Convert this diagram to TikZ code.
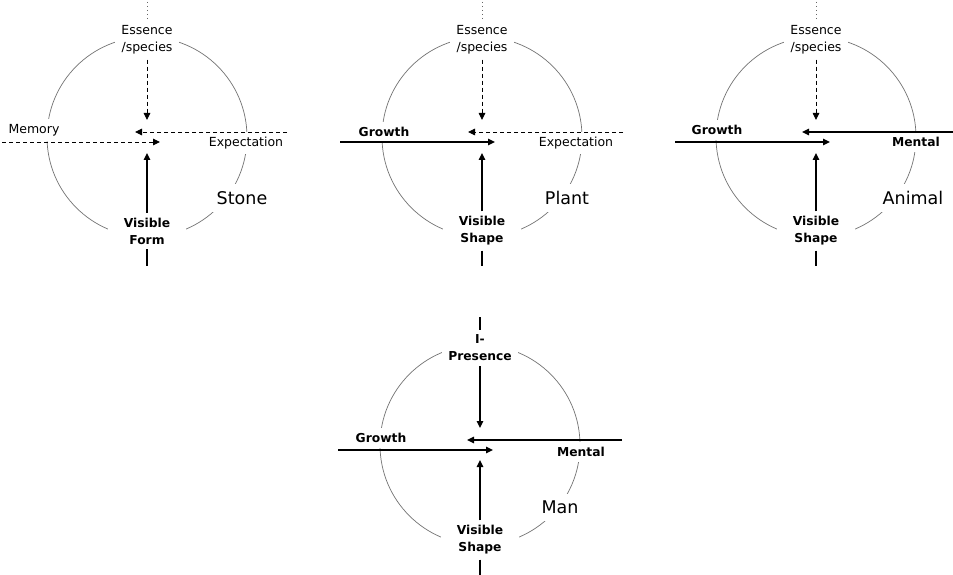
\documentclass[tikz,border=0pt]{standalone}
\usepackage{fontspec}
\setmainfont{DejaVu Sans}
\usetikzlibrary{arrows.meta}
\begin{document}
\begin{tikzpicture}[x=1pt,y=-1pt,
  ring/.style={draw=black!55,line width=0.7pt},
  lbl/.style={fill=white,inner xsep=6pt,inner ysep=5pt,align=center,font=\fontsize{12.5}{17}\selectfont},
  blbl/.style={lbl,font=\fontsize{12.3}{17}\selectfont\bfseries},
  vis/.style={blbl,inner xsep=16pt},
  big/.style={fill=white,inner xsep=9pt,inner ysep=7pt,font=\fontsize{17.5}{20}\selectfont},
  solidarr/.style={line width=1.4pt,-{Triangle[length=7pt,width=6.5pt]}},
  dasharr/.style={line width=0.9pt,dash pattern=on 4pt off 3pt,-{Triangle[length=7pt,width=6.5pt]}},
  dotline/.style={draw=black!60,line width=0.9pt,dash pattern=on 1.5pt off 2.5pt},
  stub/.style={line width=1.4pt}]
\useasboundingbox (0,0) rectangle (953,575);
\fill[white] (0,0) rectangle (953,575);

% ---------- circles ----------
\draw[ring] (147,137) circle (100);
\draw[ring] (482,137) circle (100);
\draw[ring] (816,137) circle (100);
\draw[ring] (480,445) circle (100);

% ---------- Stone ----------
\node[lbl]  (e1) at (147,40) {Essence\\/species};
\node[vis]  (v1) at (147,231) {Visible\\Form};
\node[lbl]  (m1) at (34,130) {Memory};
\node[lbl]  (x1) at (246,143) {Expectation};
\node[big]  (s1) at (242,198) {Stone};
\coordinate (e1top) at (147,2);
\coordinate (e1tip) at (147,120);
\coordinate (v1tip) at (147,153);
\coordinate (v1bot) at (147,266);
\coordinate (r1a) at (287,132);
\coordinate (r1b) at (135,132);
\coordinate (l1a) at (2,142);
\coordinate (l1b) at (160,142);
\draw[dotline] (e1top) -- (e1.north);
\draw[dasharr] (e1.south) -- (e1tip);
\draw[solidarr] (v1.north) -- (v1tip);
\draw[stub] (v1.south) -- (v1bot);
\draw[dasharr] (r1a) -- (r1b);
\draw[dasharr] (l1a) -- (l1b);

% ---------- Plant ----------
\node[lbl]  (e2) at (482,40) {Essence\\/species};
\node[vis]  (v2) at (482,231) {Visible\\Shape};
\node[blbl] (g2) at (384,132) {Growth};
\node[lbl]  (x2) at (576,143) {Expectation};
\node[big]  (s2) at (567,198) {Plant};
\coordinate (e2top) at (482,2);
\coordinate (e2tip) at (482,120);
\coordinate (v2tip) at (482,153);
\coordinate (v2bot) at (482,266);
\coordinate (r2a) at (623,132);
\coordinate (r2b) at (468,132);
\coordinate (l2a) at (340,142);
\coordinate (l2b) at (495,142);
\draw[dotline] (e2top) -- (e2.north);
\draw[dasharr] (e2.south) -- (e2tip);
\draw[solidarr] (v2.north) -- (v2tip);
\draw[stub] (v2.south) -- (v2bot);
\draw[dasharr] (r2a) -- (r2b);
\draw[solidarr] (l2a) -- (l2b);

% ---------- Animal ----------
\node[lbl]  (e3) at (816,40) {Essence\\/species};
\node[vis]  (v3) at (816,231) {Visible\\Shape};
\node[blbl] (g3) at (717,130) {Growth};
\node[blbl] (n3) at (916,142) {Mental};
\node[big]  (s3) at (913,198) {Animal};
\coordinate (e3top) at (816,2);
\coordinate (e3tip) at (816,120);
\coordinate (v3tip) at (816,153);
\coordinate (v3bot) at (816,266);
\coordinate (r3a) at (953,132);
\coordinate (r3b) at (802,132);
\coordinate (l3a) at (675,142);
\coordinate (l3b) at (830,142);
\draw[dotline] (e3top) -- (e3.north);
\draw[dasharr] (e3.south) -- (e3tip);
\draw[solidarr] (v3.north) -- (v3tip);
\draw[stub] (v3.south) -- (v3bot);
\draw[solidarr] (r3a) -- (r3b);
\draw[solidarr] (l3a) -- (l3b);

% ---------- Man ----------
\node[blbl] (e4) at (480,348) {I-\\Presence};
\node[vis]  (v4) at (480,540) {Visible\\Shape};
\node[blbl] (g4) at (381,438) {Growth};
\node[blbl] (n4) at (581,452) {Mental};
\node[big]  (s4) at (560,507) {Man};
\coordinate (e4top) at (480,317);
\coordinate (e4tip) at (480,428);
\coordinate (v4tip) at (480,460);
\coordinate (v4bot) at (480,575);
\coordinate (r4a) at (622,440);
\coordinate (r4b) at (467,440);
\coordinate (l4a) at (338,450);
\coordinate (l4b) at (493,450);
\draw[stub] (e4top) -- (e4.north);
\draw[solidarr] (e4.south) -- (e4tip);
\draw[solidarr] (v4.north) -- (v4tip);
\draw[stub] (v4.south) -- (v4bot);
\draw[solidarr] (r4a) -- (r4b);
\draw[solidarr] (l4a) -- (l4b);
\end{tikzpicture}
\end{document}
